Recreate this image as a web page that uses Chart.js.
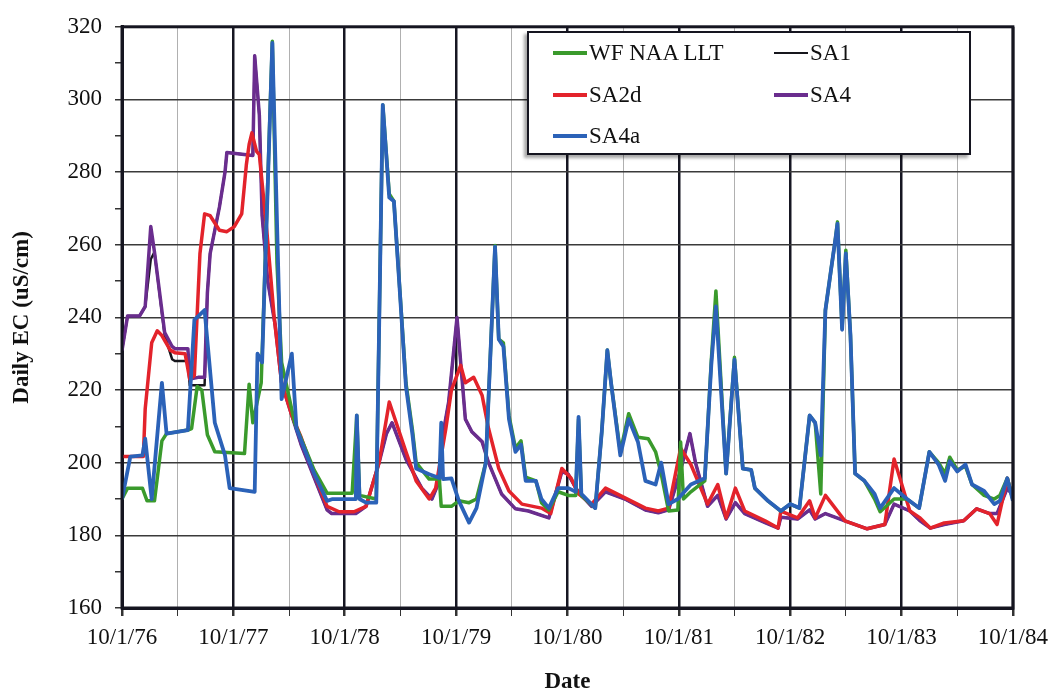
<!DOCTYPE html>
<html>
<head>
<meta charset="utf-8">
<script src="https://cdn.jsdelivr.net/npm/chart.js@4.4.1/dist/chart.umd.min.js"></script>
<style>
  html, body { margin: 0; padding: 0; background: #fff; }
  #wrap { position: relative; width: 1056px; height: 696px; }
  #legend {
    position: absolute; left: 527px; top: 31px; width: 440px; height: 120px;
    background: #fff; border: 2.5px solid #151520;
    box-shadow: -3px 3px 3px rgba(0,0,0,0.35);
    font-family: "Liberation Serif", "DejaVu Serif", serif; font-size: 23px; color: #111;
  }
  .item { position: absolute; display: flex; align-items: center; white-space: nowrap; }
  .item span.sw { display: inline-block; width: 34px; height: 3px; margin-right: 2px; }
</style>
</head>
<body>
<div id="wrap">
  <canvas id="chart" width="1056" height="696"></canvas>
  <div id="legend"></div>
</div>
<script>
// x = months after 10/1/76
const yearLabels = ['10/1/76', '10/1/77', '10/1/78', '10/1/79', '10/1/80', '10/1/81', '10/1/82', '10/1/83', '10/1/84'];

const wfMonths = [0,0.6,2.2,2.7,3.5,4.3,4.8,7.1,7.5,8.1,8.6,9.2,10,13.2,13.7,14.1,15,16.2,16.7,17.2,18.6,20.7,22.1,24.8,25.3,25.6,27.4,28.1,28.8,29.3,29.9,30.6,31.3,31.7,33.1,34.2,34.4,35.5,36.3,37.4,38.2,39.2,40.2,40.6,41.1,41.7,42.4,43,43.5,44.6,45.2,46,47,48.1,48.9,49.2,49.5,51,51.7,52.3,52.7,53.7,54.6,55.6,56.7,57.5,58.1,58.9,59.9,60.2,60.5,61.3,62.8,63.5,64,65.1,66,66.9,67.8,68.2,69.6,71,72,73,74.1,74.7,75.3,75.8,76.4,76.9,77.1,77.6,78,78.5,79,80,81.1,81.7,83.2,84.6,85.9,87,88,88.7,89.2,90,90.9,91.6,92.9,94,94.6,95.4,96];
const wfValues = [190,193,193,189.5,189.5,206,208,209,209.4,221,220,207.7,203,202.5,221.6,211,222,316,255,227.6,211,198,191.6,191.6,213,191,190,298.5,274,272,249,222,209,200,195.5,195.5,188,188,189.5,189,190,200,259.8,234,233,213,204,206,196,195,189,187,192,191,191,212,191,187.5,208.5,231,222,203,213.5,207,206.6,203,197,186.7,187,205.7,190,192,195,228,247.3,197,229,198.4,198,193,189.5,186.7,188.6,187.5,213,211,191.4,242,253,262,266.3,237,258.5,235,197,195,190,186.5,190,190,187.5,203,200,197,201.5,198,199,194,191,190,191,195.7,190];

const sa4Months = [0,0.6,1.9,2.5,3.1,3.5,4.6,5.4,5.7,7.1,7.3,8.2,8.9,9.2,9.5,10.5,11.1,11.3,14.1,14.3,14.8,15.1,15.7,16.5,17.2,18.3,19.3,20.7,22.1,22.6,25.2,26.3,27.7,28.5,29.1,30.6,32.3,33.4,34.2,34.5,35.2,36.1,37,37.7,38.8,39.5,40.9,42.4,43.8,46,47.4,48.1,48.9,49.5,50.6,52.1,54.2,56.4,57.8,58.9,60.2,61.2,61.8,63.1,64.2,65.1,66.1,67.1,69.3,70.7,71,72.8,74.1,74.7,75.8,77.9,80.3,82.2,83.2,84.9,86,87.1,88.6,90.7,92.1,93.5,94.3,95.4,96];
const sa4Values = [230.9,240.4,240.4,243,265,258,235.8,232,231.4,231.4,223,223.5,223.5,246.7,257.6,270.4,280,285.4,284.6,312,295.7,268,250,238,222,213,205,196,187,186,186,188,200,208,211,201,193,190,195,206.6,216.7,240,212,208.5,205.8,200,191.4,187.3,186.7,184.8,197.6,196.8,193,191,188,192,190,187,186.2,187,198,208,200,188,191,184.5,189,186,183.5,182,185,184.5,187,184.5,186,184,181.8,183,188.6,186.7,184,182,183,184,187.3,186,186,193,191];

// SA1 uses the SA4 dates
const sa1Values = [230.9,240.4,240.4,243,256,258,235,228.5,228,228,221.3,221.3,221.3,246.7,257.6,270.4,280,285.4,284.6,312,295.7,268,250,238,222,213,205,196,187,186,186,188,200,208,211,201,193,190,195,206.6,216.7,240,212,208.5,205.8,200,191.4,187.3,186.7,184.8,197.6,196.8,193,191,188,192,190,187,186.2,187,198,208,200,188,191,184.5,189,186,183.5,182,185,184.5,187,184.5,186,184,181.8,183,188.6,186.7,184,182,183,184,187.3,186,186,193,191];

const sa2dMonths = [0,2.3,2.5,3.2,3.8,4.3,5.2,5.7,6.8,7.3,7.8,8.4,8.9,9.5,10.5,11.3,12.1,12.9,13.4,13.7,14,14.5,14.8,15.6,16.4,17.2,18.3,19.3,20.7,22.1,23.4,25,26.3,27.7,28.8,30.6,31.7,33.1,33.8,34.9,35.5,36.5,37,37.9,38.8,39.5,40.6,41.7,43.1,45.2,46.2,47.4,48.4,49.2,50.6,52.1,54.2,56.4,57.8,58.9,60.2,61.3,63.1,64.2,65.1,66.1,67.1,69.3,70.7,71,72.8,74.1,74.7,75.8,77.9,80.3,82.2,83.2,84.9,86,87.1,88.6,90.7,92.1,93.5,94.3,95.4,96];
const sa2dValues = [201.7,201.7,214.8,233,236.3,235,231,230.3,230,223,224,257.6,268.5,268,264,263.6,265,268.5,282,287.6,290.8,285.7,284.8,264,240,222,213,207,197,188,186.5,186.5,188,200,216.7,203,195,190,193,209.4,220,226.8,222,223.5,218.6,209.4,198.4,192.2,188.6,187.5,186,198.4,195.7,191.4,188.6,193,190.3,187.5,186.7,187.5,204,199.5,188.6,194,184.8,193,186.7,184,182,186.7,184.8,189.5,184.8,191,184,181.8,183,201,186.7,184.8,182,183.4,184,187.3,186,183,195.7,190];

const sa4aMonths = [0,0.9,2.2,2.5,3.2,4.3,4.8,7.1,7.8,8.9,10,11.1,11.6,14.3,14.6,15.1,16.2,17.2,18.3,18.8,20.7,22.1,22.7,25.2,25.3,25.6,26.3,27.4,28.1,28.8,29.3,29.9,30.6,31.3,31.7,33.1,34.2,34.4,34.6,35.5,36.3,37.4,38.2,39.2,40.2,40.6,41.1,41.7,42.4,43,43.5,44.6,45.2,46,47,48.1,48.9,49.2,49.5,51,51.7,52.3,52.7,53.7,54.6,55.6,56.4,57.5,58.1,58.9,59.9,61.3,62.8,63.5,64,65.1,66,66.9,67.8,68.2,69.6,71,72,73,74.1,74.7,75.3,75.8,76.4,76.9,77.1,77.6,78,78.5,79,80,81.1,81.7,83.2,84.6,85.9,87,88,88.7,89.2,90,90.9,91.6,92.9,94,94.6,95.4,96];
const sa4aValues = [190,201.7,202,206.6,190,222,208,209,239.3,242,211,202,193,192,230,227.6,315.6,217.5,230,209.4,197,189.5,190,190,213,190,189,189,298.5,273,272,248.6,221,207.7,198.4,196.8,195.8,211,195.5,195.7,189.5,183.5,187.5,200,259.5,234,232,212,203,205,195,195,190,187.5,193,193,192,212.6,191.4,187.5,208.5,231,222,202,212,205.7,195,194,200,188.6,190,194,195.7,226.8,243,197,228.4,198.4,198,193,189.5,186.7,188.6,187.5,213,211,202,242,253,262,265.8,236.6,257.6,235,197,195,191.4,187.5,193,190,187.5,203,199.5,195,200.4,197.6,199.5,194,192.2,188.6,189.5,195.7,189.5];

const serif = '"Liberation Serif", "DejaVu Serif", serif';
const pts = (xs, ys) => xs.map((x, i) => ({ x, y: ys[i] }));

const series = [
  { label: 'WF NAA LLT', months: wfMonths, values: wfValues, color: '#3a9a2c', width: 3.5, order: 1 },
  { label: 'SA1', months: sa4Months, values: sa1Values, color: '#16161c', width: 2.5, order: 4 },
  { label: 'SA2d', months: sa2dMonths, values: sa2dValues, color: '#e3232b', width: 3.5, order: 2 },
  { label: 'SA4', months: sa4Months, values: sa4Values, color: '#6a2d8e', width: 3.5, order: 3 },
  { label: 'SA4a', months: sa4aMonths, values: sa4aValues, color: '#2b62b8', width: 3.8, order: 0 }
];

const framePlugin = {
  id: 'frame',
  afterDraw(chart) {
    const { ctx, chartArea: a } = chart;
    ctx.save();
    ctx.strokeStyle = '#151520';
    ctx.lineWidth = 3;
    ctx.strokeRect(a.left, a.top, a.right - a.left, a.bottom - a.top);
    ctx.restore();
  }
};

new Chart(document.getElementById('chart').getContext('2d'), {
  type: 'line',
  data: {
    datasets: series.map(s => ({
      label: s.label,
      data: pts(s.months, s.values),
      borderColor: s.color,
      backgroundColor: s.color,
      borderWidth: s.width,
      borderJoinStyle: 'round',
      pointRadius: 0,
      tension: 0,
      fill: false,
      order: s.order
    }))
  },
  options: {
    responsive: false,
    animation: false,
    layout: { padding: { top: 21, right: 40, left: 0, bottom: 0 } },
    plugins: { legend: { display: false }, tooltip: { enabled: false } },
    scales: {
      x: {
        type: 'linear', min: 0, max: 96,
        afterFit: s => { s.height = 88; },
        ticks: {
          stepSize: 6, autoSkip: false, maxRotation: 0, padding: 8,
          color: '#111', font: { family: serif, size: 23 },
          callback: v => (v % 12 === 0 ? yearLabels[v / 12] : '')
        },
        grid: {
          color: c => (c.tick && c.tick.value % 12 === 0 ? '#161622' : '#b0b0b0'),
          lineWidth: c => (c.tick && c.tick.value % 12 === 0 ? 2.5 : 1),
          tickColor: '#333', tickLength: 8
        },
        border: { color: '#151520', width: 3 },
        title: { display: true, text: 'Date', color: '#111', font: { family: serif, size: 23, weight: 'bold' }, padding: { top: 0, bottom: 0 } }
      },
      y: {
        min: 160, max: 320,
        afterFit: s => { s.width = 122; },
        ticks: {
          stepSize: 10, autoSkip: false, padding: 13,
          color: '#111', font: { family: serif, size: 23 },
          callback: v => (v % 20 === 0 ? v : '')
        },
        grid: {
          color: c => (c.tick && c.tick.value % 20 === 0 ? '#3a3a3a' : 'rgba(0,0,0,0)'),
          lineWidth: 1.5, tickColor: '#333', tickLength: 7
        },
        border: { color: '#151520', width: 3 },
        title: { display: true, text: 'Daily EC (uS/cm)', color: '#111', font: { family: serif, size: 23, weight: 'bold' }, padding: { top: 8, bottom: 0 } }
      }
    }
  },
  plugins: [framePlugin]
});

// legend in two columns like the original
const legendPos = [[24, 7], [245, 7], [24, 49], [245, 49], [24, 90]];
document.getElementById('legend').innerHTML = series.map((s, i) => `
  <div class="item" style="left:${legendPos[i][0]}px;top:${legendPos[i][1]}px">
    <span class="sw" style="background:${s.color};height:${s.label === 'SA1' ? 2 : 3.5}px"></span>${s.label}
  </div>`).join('');
</script>
</body>
</html>
